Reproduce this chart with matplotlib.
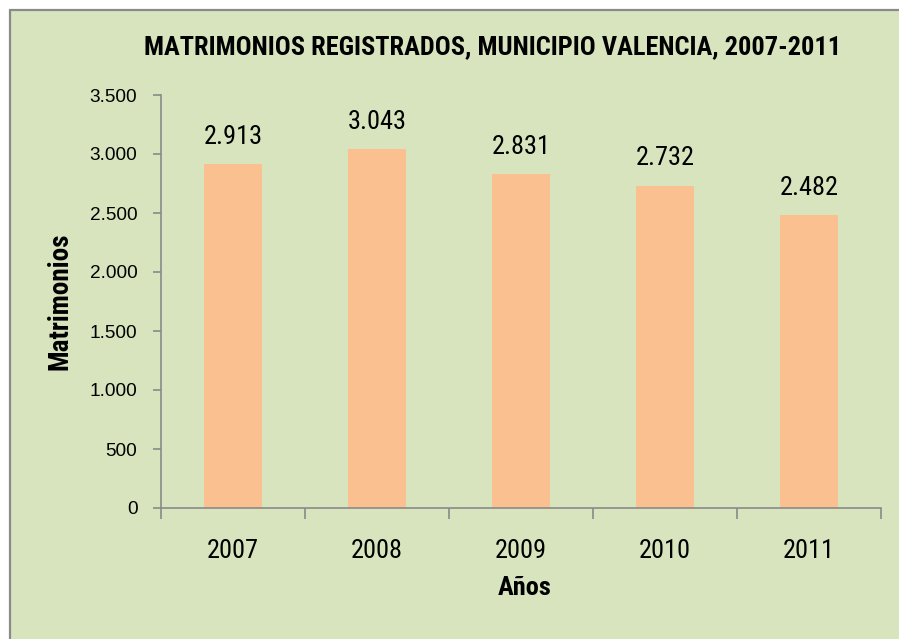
import matplotlib.pyplot as plt
from matplotlib.patches import Rectangle
from matplotlib.ticker import FuncFormatter

# Marriages registered per year
years = ["2007", "2008", "2009", "2010", "2011"]
marriages = [2913, 3043, 2831, 2732, 2482]

BG = "#D7E4BD"
BAR = "#FAC090"
GREY = "#8A8A8A"
NARROW = ["Roboto Condensed", "DejaVu Sans"]
REGULAR = ["Liberation Sans", "DejaVu Sans"]


def miles(v, pos=None):
    # thousands separator with a dot
    return f"{int(v):,}".replace(",", ".")


fig = plt.figure(figsize=(8.99, 6.39), dpi=100, facecolor="white")

# green chart area with a grey edge on the left and top
fig.patches.append(Rectangle((10 / 899, -0.1), 1.2, (639 - 10) / 639 + 0.1,
                             transform=fig.transFigure, facecolor=BG,
                             edgecolor=GREY, linewidth=1.6, zorder=-1))

ax = fig.add_axes([161 / 899, 131 / 639, 720 / 899, 413 / 639])
ax.set_facecolor("none")

x = range(len(years))
bars = ax.bar(x, marriages, width=0.4, color=BAR, zorder=2)

ax.set_xlim(-0.5, len(years) - 0.5)
ax.set_ylim(0, 3500)
ax.set_yticks(range(0, 3501, 500))
ax.yaxis.set_major_formatter(FuncFormatter(miles))

# category ticks sit between the bars, labels under each bar
ax.set_xticks([i - 0.5 for i in range(len(years) + 1)])
ax.set_xticklabels([])
ax.set_xticks(list(x), minor=True)
ax.set_xticklabels(years, minor=True, family=NARROW, fontsize=19)
ax.tick_params(axis="x", which="major", length=8, width=1.2, color=GREY)
ax.tick_params(axis="x", which="minor", length=0, pad=22)
ax.tick_params(axis="y", length=6, width=1.2, color=GREY, pad=11)
for lbl in ax.get_yticklabels():
    lbl.set_family(REGULAR)
    lbl.set_fontsize(13.7)

for side in ["top", "right"]:
    ax.spines[side].set_visible(False)
for side in ["left", "bottom"]:
    ax.spines[side].set_color(GREY)
    ax.spines[side].set_linewidth(1.2)

for b, v in zip(bars, marriages):
    ax.annotate(miles(v), (b.get_x() + b.get_width() / 2, v),
                xytext=(0, 11), textcoords="offset points",
                ha="center", va="bottom", family=NARROW, fontsize=19)

fig.text(493 / 899, 1 - 47 / 639,
         "MATRIMONIOS REGISTRADOS, MUNICIPIO VALENCIA, 2007-2011",
         ha="center", va="center", family=NARROW, fontsize=19,
         fontweight="bold")
fig.text(525 / 899, 1 - 588 / 639, "Años", ha="center", va="center",
         family=NARROW, fontsize=19, fontweight="bold")
fig.text(60 / 899, 1 - 301 / 639, "Matrimonios", ha="center", va="center",
         rotation=90, family=NARROW, fontsize=19.5, fontweight="bold")

fig.savefig("out.png", dpi=100, facecolor="white")
